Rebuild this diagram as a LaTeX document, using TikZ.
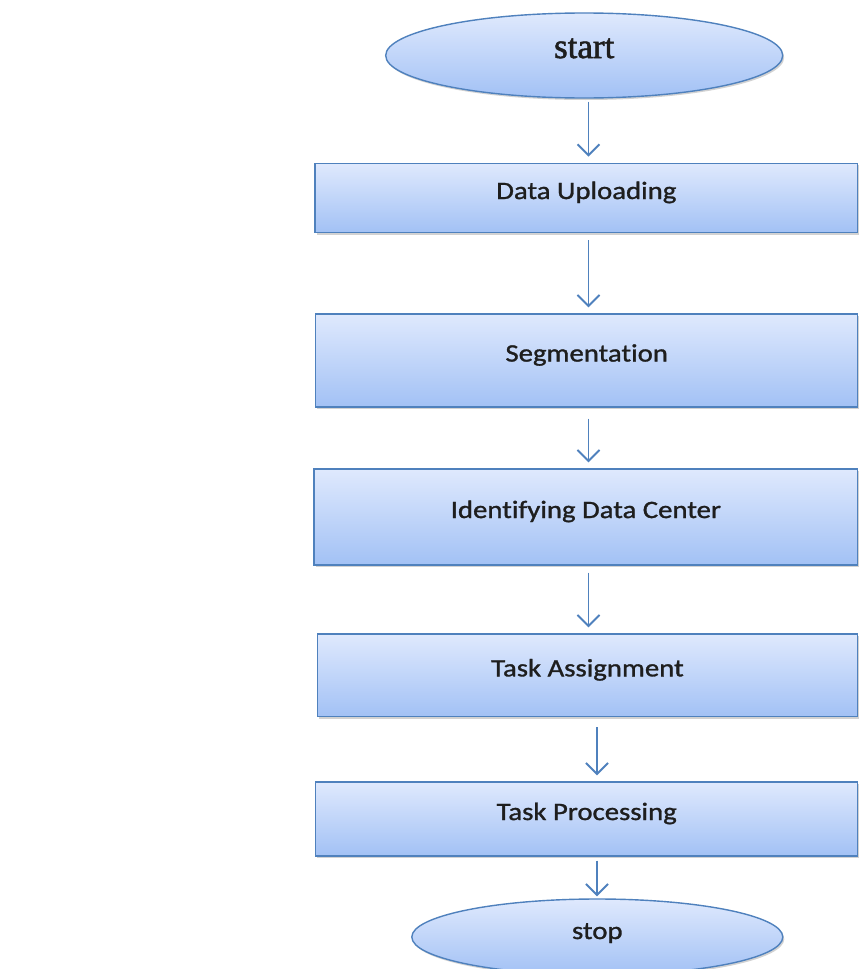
\documentclass[tikz,border=0pt]{standalone}
\usepackage{fontspec}
\setmainfont{Liberation Serif}
\newfontfamily\startfont[FakeBold=1.6]{Liberation Serif}
\newfontfamily\boxfont[FakeStretch=1.15,FakeBold=1.2,Ligatures=NoCommon]{Carlito}
\usetikzlibrary{arrows.meta,shadows,shapes.geometric}
\definecolor{edgeblue}{RGB}{79,129,189}
\definecolor{topc}{RGB}{223,233,253}
\definecolor{botc}{RGB}{162,193,245}
\definecolor{txt}{RGB}{30,30,30}
\begin{document}
\begin{tikzpicture}[x=1pt,y=-1pt,
  base/.style={draw=edgeblue, line width=1.4pt, top color=topc, bottom color=botc,
    drop shadow={shadow xshift=1.5pt, shadow yshift=-2pt, opacity=0.35}},
  procbox/.style={base, rectangle, inner sep=0pt, text=txt,
    font=\boxfont\fontsize{25}{30}\selectfont, text height=18pt, text depth=16pt},
  termstart/.style={base, ellipse, inner sep=0pt, text=txt,
    font=\startfont\fontsize{35}{40}\selectfont, text height=25pt, text depth=20pt},
  termstop/.style={base, ellipse, inner sep=0pt, text=txt,
    font=\boxfont\fontsize{25}{30}\selectfont, text height=20pt, text depth=16pt},
  arr/.style={draw=edgeblue, line width=1.9pt, -{Straight Barb[length=11pt,width=22pt]}}
]
\fill[white] (0,0) rectangle (859,969);
\useasboundingbox (0,0) rectangle (859,969);

\node[termstart, minimum width=397pt, minimum height=85pt] (start) at (584.2,55.5) {start};
\node[procbox, minimum width=542.7pt, minimum height=69.4pt] (du) at (586.35,198) {Data Uploading};
\node[procbox, minimum width=542pt, minimum height=93pt] (seg) at (586.7,360.5) {Segmentation};
\node[procbox, minimum width=543.7pt, minimum height=96pt] (idc) at (585.85,517) {Identifying Data Center};
\node[procbox, minimum width=540.4pt, minimum height=82.7pt] (ta) at (587.5,675.35) {Task Assignment};
\node[procbox, minimum width=542pt, minimum height=74pt] (tp) at (586.7,819) {Task Processing};
\node[termstop, minimum width=371pt, minimum height=76pt] (stop) at (597.3,937) {stop};

\coordinate (ax1) at (588.5,0);
\coordinate (ax2) at (597,0);

\draw[arr, shorten <=3pt, shorten >=6pt] (start.south -| ax1) -- (du.north -| ax1);
\draw[arr, shorten <=7pt, shorten >=6pt] (du.south -| ax1) -- (seg.north -| ax1);
\draw[arr, shorten <=11pt, shorten >=6pt] (seg.south -| ax1) -- (idc.north -| ax1);
\draw[arr, shorten <=7pt, shorten >=6pt] (idc.south -| ax1) -- (ta.north -| ax1);
\draw[arr, shorten <=10pt, shorten >=6pt] (ta.south -| ax2) -- (tp.north -| ax2);
\draw[arr, shorten <=4pt, shorten >=2pt] (tp.south -| ax2) -- (stop.north -| ax2);
\end{tikzpicture}
\end{document}
